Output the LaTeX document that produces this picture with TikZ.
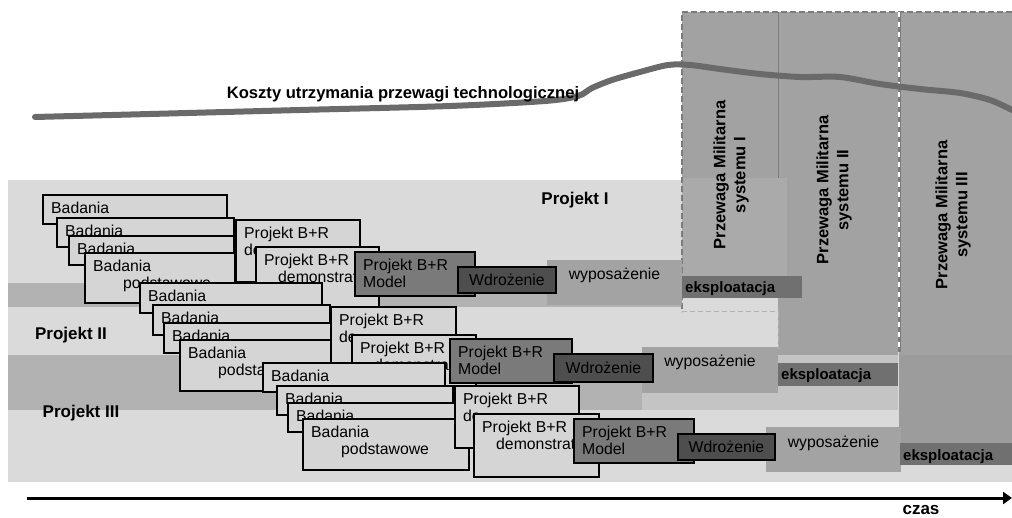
\documentclass[tikz,border=0pt]{standalone}
\usepackage{fontspec}
\setmainfont{Liberation Sans}
\usetikzlibrary{arrows.meta,fit}
\definecolor{bgc}{HTML}{DADADA}
\definecolor{bandc}{HTML}{B2B2B2}
\definecolor{bandl}{HTML}{C4C4C4}
\definecolor{colc}{HTML}{A2A2A2}
\definecolor{coll}{HTML}{AAAAAA}
\definecolor{col3l}{HTML}{9C9C9C}
\definecolor{boxc}{HTML}{D5D5D5}
\definecolor{modc}{HTML}{7A7A7A}
\definecolor{wdrc}{HTML}{4E4E4E}
\definecolor{wypc}{HTML}{A3A3A3}
\definecolor{eksc}{HTML}{707070}
\definecolor{curvec}{HTML}{6A6A6A}
\definecolor{dashc}{HTML}{7C7C7C}
\tikzset{
 bx/.style={draw=black, line width=1.3pt, fill=boxc, inner sep=0pt, outer sep=0pt},
 mdl/.style={bx, fill=modc},
 wdr/.style={bx, fill=wdrc},
 wyp/.style={fill=wypc, inner sep=0pt, outer sep=0pt},
 eks/.style={fill=eksc, inner sep=0pt, outer sep=0pt},
 txt/.style={inner sep=0pt, align=left, font=\fontsize{15.8}{17}\selectfont},
 btxt/.style={inner sep=0pt, font=\bfseries\fontsize{15}{18}\selectfont},
 ltxt/.style={inner sep=0pt, font=\bfseries\fontsize{17}{20}\selectfont},
 rtxt/.style={inner sep=0pt, rotate=90, align=center, font=\bfseries\fontsize{16.5}{20}\selectfont},
}
\newcommand\tbox[7]{\node[#2, fit={(#3,#4)(#5,#6)}] (#1) {};
 \node[txt, anchor=north west] (#1-t) at ([xshift=8pt,yshift=-7pt]#1.north west) {#7};}
\newcommand\cbox[7]{\node[#2, fit={(#3,#4)(#5,#6)}] (#1) {};
 \node[txt] (#1-t) at (#1.center) {#7};}
\newcommand\wbox[5]{\node[wyp, fit={(#2,#3)(#4,#5)}] (#1) {};
 \node[txt, anchor=base] (#1-t) at ([yshift=-20pt]#1.north) {wyposażenie};}
\newcommand\ebox[5]{\node[eks, fit={(#2,#3)(#4,#5)}] (#1) {};
 \node[btxt, anchor=base west] (#1-t) at ([xshift=3pt,yshift=-17pt]#1.north west) {eksploatacja};}
\begin{document}
\begin{tikzpicture}[x=1pt,y=-1pt]
\useasboundingbox (0,0) rectangle (1012,518);
% background areas
\fill[bgc] (8,180) rectangle (1012,482);
\fill[bandc] (8,283) rectangle (682,307);
\fill[bandc] (8,355) rectangle (642,410);
\fill[bandl] (642,355) rectangle (898,410);
% columns
\fill[colc] (682,12) rectangle (778,178);
\fill[colc] (778,12) rectangle (898,355);
\fill[colc] (899,12) rectangle (1012,355);
\fill[coll] (682,178) rectangle (787,276);
\fill[col3l] (899,355) rectangle (1012,443);
\draw[dashc, line width=1pt] (778,12) -- (778,178);
\draw[dashc, line width=1.5pt, dash pattern=on 6pt off 3pt] (1012,12) -- (682,12) -- (682,312);
\draw[gray!60, line width=1pt, dash pattern=on 5pt off 3pt] (682,312) -- (778,312) -- (778,350);
\draw[dashc, line width=3pt] (899,12) -- (899,352);
\draw[white, line width=2pt, dash pattern=on 5pt off 5pt] (899,12) -- (899,352);
% column labels
\node[rtxt] (c1) at (731,175) {Przewaga Militarna\\systemu I};
\node[rtxt] (c2) at (834,190) {Przewaga Militarna\\systemu II};
\node[rtxt] (c3) at (953,215) {Przewaga Militarna\\systemu III};
% cost curve
\draw[curvec, line width=6pt, line cap=round, line join=round]
 plot[smooth, tension=0.5] coordinates {(35,117) (150,114) (300,110) (450,106) (545,101) (578,96) (592,88) (612,80) (640,72) (668,65) (690,65) (720,69) (760,74) (800,77) (840,77) (880,84) (920,89) (960,93) (990,100) (1012,110)};
\node[ltxt, font=\bfseries\fontsize{16.6}{18}\selectfont] (koszty) at (403,94) {Koszty utrzymania przewagi technologicznej};
% project labels
\node[ltxt] (p1) at (575,200) {Projekt I};
\node[ltxt] (p2) at (71,335) {Projekt II};
\node[ltxt] (p3) at (81,413) {Projekt III};
% Projekt I
\tbox{a1}{bx}{43}{195}{227}{224}{Badania}
\tbox{a2}{bx}{57}{218}{234}{247}{Badania}
\tbox{a3}{bx}{69}{236}{234}{265}{Badania}
\tbox{a4}{bx}{85}{253}{235}{303}{Badania\\\hspace*{30pt}podstawowe}
\tbox{a5}{bx}{236}{220}{360}{282}{Projekt B+R\\de}
\tbox{a6}{bx}{256}{247}{379}{307}{Projekt B+R\\\hspace*{14pt}demonstrat}
\tbox{a7}{mdl}{355}{252}{475}{296}{Projekt B+R\\Model}
\wbox{a9}{547}{260}{682}{305}
\cbox{a8}{wdr}{458}{267}{556}{293}{Wdrożenie}
\ebox{a10}{682}{276}{802}{298}
% Projekt II
\tbox{b1}{bx}{140}{283}{322}{313}{Badania}
\tbox{b2}{bx}{153}{305}{330}{335}{Badania}
\tbox{b3}{bx}{164}{323}{331}{353}{Badania}
\tbox{b4}{bx}{180}{340}{332}{391}{Badania\\\hspace*{30pt}podsta}
\tbox{b5}{bx}{331}{307}{456}{370}{Projekt B+R\\de}
\tbox{b6}{bx}{352}{335}{476}{395}{Projekt B+R\\\hspace*{14pt}demonstrat}
\tbox{b7}{mdl}{450}{339}{572}{383}{Projekt B+R\\Model}
\wbox{b9}{642}{347}{778}{393}
\cbox{b8}{wdr}{554}{354}{653}{382}{Wdrożenie}
\ebox{b10}{778}{363}{898}{386}
% Projekt III
\tbox{c1b}{bx}{263}{363}{445}{392}{Badania}
\tbox{c2b}{bx}{277}{386}{453}{415}{Badania}
\tbox{c3b}{bx}{288}{403}{455}{432}{Badania}
\tbox{c4b}{bx}{303}{419}{469}{470}{Badania\\\hspace*{30pt}podstawowe}
\tbox{c5b}{bx}{455}{386}{579}{448}{Projekt B+R\\de}
\tbox{c6b}{bx}{474}{414}{599}{477}{Projekt B+R\\\hspace*{14pt}demonstrat}
\tbox{c7b}{mdl}{574}{419}{694}{463}{Projekt B+R\\Model}
\wbox{c9b}{766}{427}{901}{472}
\cbox{c8b}{wdr}{678}{434}{775}{460}{Wdrożenie}
\ebox{c10b}{900}{443}{1012}{465}
% time axis
\coordinate (t0) at (27,498);
\coordinate (t1) at (1012,498);
\draw[line width=3pt, -{Triangle[length=9pt,width=12pt]}] (t0) -- (t1);
\node[ltxt] (czas) at (921,510) {czas};
\end{tikzpicture}
\end{document}
